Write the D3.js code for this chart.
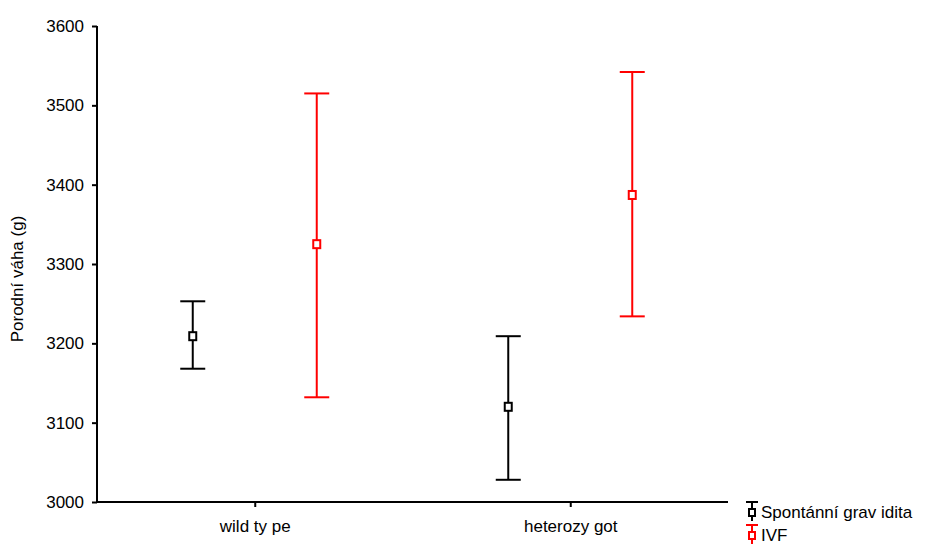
<!DOCTYPE html>
<meta charset="utf-8">
<style>
body { margin: 0; background: #fff; }
text { font-family: "Liberation Sans", Arial, sans-serif; font-size: 17px; fill: #000; }
</style>
<svg id="chart" width="925" height="544"></svg>
<script src="https://cdn.jsdelivr.net/npm/d3@7/dist/d3.min.js"></script>
<script>
var categories = ["wild ty pe", "heterozy got"];
var seriesNames = ["Spontánní grav idita", "IVF"];
var seriesColors = ["#000000", "#ff0000"];
// mean, lower, upper per category
var spontMean = [3209, 3120];
var spontLow = [3168, 3028];
var spontHigh = [3253, 3209];
var ivfMean = [3325, 3387];
var ivfLow = [3132, 3234];
var ivfHigh = [3515, 3542];
var yTicks = [3000, 3100, 3200, 3300, 3400, 3500, 3600];

var svg = d3.select("#chart");
var x = d3.scalePoint().domain(categories).range([97, 728]).padding(0.5);
var y = d3.scaleLinear().domain([3000, 3600]).range([502, 26]);
var offset = 62, cap = 12.5;

var series = [
  {name: seriesNames[0], color: seriesColors[0], dx: -offset, mean: spontMean, lo: spontLow, hi: spontHigh},
  {name: seriesNames[1], color: seriesColors[1], dx: offset, mean: ivfMean, lo: ivfLow, hi: ivfHigh}
];

// axes
var yAxis = svg.append("g")
    .attr("transform", "translate(97,0)")
    .call(d3.axisLeft(y).tickValues(yTicks).tickSize(5).tickPadding(8).tickFormat(d3.format("d")));
var xAxis = svg.append("g")
    .attr("transform", "translate(0,502)")
    .call(d3.axisBottom(x).tickSize(5).tickPadding(13));
[yAxis, xAxis].forEach(function(a) {
  a.selectAll("path").attr("stroke", "#000").attr("stroke-width", 2);
  a.selectAll("line").attr("stroke", "#000").attr("stroke-width", 2);
  a.selectAll("text").attr("font-family", null).attr("font-size", null).attr("fill", "#000");
});
xAxis.select("path").attr("d", "M97,0H728");
yAxis.select("path").attr("d", "M0,502V26");

svg.append("text")
    .attr("transform", "translate(23,279) rotate(-90)")
    .attr("text-anchor", "middle")
    .text("Porodní váha (g)");

// error bars
series.forEach(function(s) {
  var g = svg.append("g").attr("stroke", s.color).attr("stroke-width", 2).attr("fill", "none");
  categories.forEach(function(c, i) {
    var cx = x(c) + s.dx;
    g.append("line").attr("x1", cx).attr("x2", cx).attr("y1", y(s.hi[i])).attr("y2", y(s.lo[i]));
    g.append("line").attr("x1", cx - cap).attr("x2", cx + cap).attr("y1", y(s.hi[i])).attr("y2", y(s.hi[i]));
    g.append("line").attr("x1", cx - cap).attr("x2", cx + cap).attr("y1", y(s.lo[i])).attr("y2", y(s.lo[i]));
    g.append("rect").attr("x", cx - 3.5).attr("y", y(s.mean[i]) - 4).attr("width", 7).attr("height", 8)
        .attr("fill", "#fff");
  });
});

// legend
series.forEach(function(s, i) {
  var ly = 512 + i * 23;
  var g = svg.append("g").attr("stroke", s.color).attr("stroke-width", 2).attr("fill", "none");
  g.append("line").attr("x1", 752).attr("x2", 752).attr("y1", ly - 10).attr("y2", ly + 9);
  g.append("line").attr("x1", 746).attr("x2", 758).attr("y1", ly - 10).attr("y2", ly - 10);
  g.append("rect").attr("x", 749).attr("y", ly - 3).attr("width", 6).attr("height", 7).attr("fill", "#fff");
  svg.append("text").attr("x", 761).attr("y", ly + 6).text(s.name);
});
</script>
